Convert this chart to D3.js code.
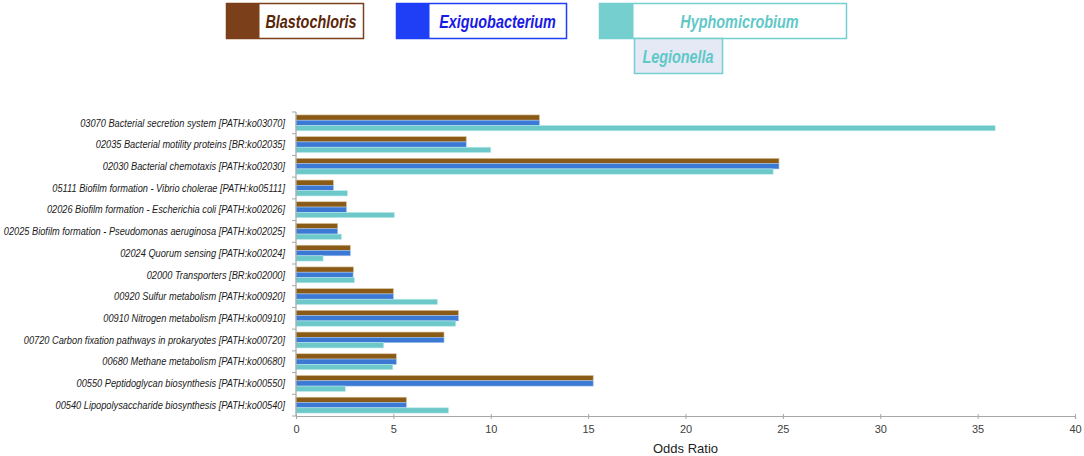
<!DOCTYPE html>
<html>
<head>
<meta charset="utf-8">
<script src="https://cdn.jsdelivr.net/npm/d3@7"></script>
<style>
  html, body { margin: 0; padding: 0; background: #ffffff; }
  svg { display: block; }
</style>
</head>
<body>
<svg id="chart" width="1084" height="456"></svg>
<script>
// KEGG pathways, top to bottom
const categories = [
    '03070 Bacterial secretion system [PATH:ko03070]',
    '02035 Bacterial motility proteins [BR:ko02035]',
    '02030 Bacterial chemotaxis [PATH:ko02030]',
    '05111 Biofilm formation - Vibrio cholerae [PATH:ko05111]',
    '02026 Biofilm formation - Escherichia coli [PATH:ko02026]',
    '02025 Biofilm formation - Pseudomonas aeruginosa [PATH:ko02025]',
    '02024 Quorum sensing [PATH:ko02024]',
    '02000 Transporters [BR:ko02000]',
    '00920 Sulfur metabolism [PATH:ko00920]',
    '00910 Nitrogen metabolism [PATH:ko00910]',
    '00720 Carbon fixation pathways in prokaryotes [PATH:ko00720]',
    '00680 Methane metabolism [PATH:ko00680]',
    '00550 Peptidoglycan biosynthesis [PATH:ko00550]',
    '00540 Lipopolysaccharide biosynthesis [PATH:ko00540]'
];

// Odds ratios
const blastochloris = [12.5, 8.74, 24.8, 1.92, 2.59, 2.14, 2.79, 2.95, 5.0, 8.34, 7.6, 5.15, 15.26, 5.67];
const exiguobacterium = [12.5, 8.74, 24.8, 1.92, 2.59, 2.14, 2.79, 2.93, 5.0, 8.34, 7.6, 5.15, 15.26, 5.67];
const hyphomicrobium = [35.9, 10.0, 24.5, 2.64, 5.05, 2.33, 1.39, 3.0, 7.26, 8.2, 4.5, 4.97, 2.53, 7.83];

const seriesNames = ['Blastochloris', 'Exiguobacterium', 'Hyphomicrobium'];
const legendNames = ['Blastochloris', 'Exiguobacterium', 'Hyphomicrobium', 'Legionella'];
const xTicks = [0, 5, 10, 15, 20, 25, 30, 35, 40];
const xTitle = 'Odds Ratio';

const barColors = ['#8a5a17', '#3c79d5', '#6dc9c9'];
const barEdges = ['#d9c49a', '#9fc2ee', '#b9e8e8'];

const labelFont = '"Liberation Sans", Arial, sans-serif';
// the original uses a narrow (Calibri-like) face, so text is squeezed horizontally
const labelSquash = 0.88;
const legendSquash = 0.8;

const svg = d3.select('#chart');
const margin = { left: 296, right: 9, top: 112, bottom: 40 };
const width = 1084 - margin.left - margin.right;
const height = 456 - margin.top - margin.bottom;

const rows = categories.map((c, i) => ({
    cat: c,
    values: [blastochloris[i], exiguobacterium[i], hyphomicrobium[i]]
}));

const xScale = d3.scaleLinear().domain([0, 40]).range([0, width]);
const yScale = d3.scaleBand().domain(categories).range([0, height]);
const inner = d3.scaleBand().domain(seriesNames).range([0, yScale.bandwidth()])
    .paddingOuter(0.55);

const chart = svg.append('g').attr('transform', `translate(${margin.left},${margin.top})`);

// Bars
const groups = chart.selectAll('.row')
    .data(rows)
    .join('g')
    .attr('class', 'row')
    .attr('transform', (d) => `translate(0,${yScale(d.cat)})`);

groups.selectAll('rect')
    .data((d) => d.values.map((v, k) => ({ v, k })))
    .join('rect')
    .attr('x', 0)
    .attr('y', (d) => inner(seriesNames[d.k]))
    .attr('width', (d) => xScale(d.v))
    .attr('height', inner.bandwidth())
    .attr('fill', (d) => barColors[d.k])
    .attr('stroke', (d) => barEdges[d.k])
    .attr('stroke-width', 0.6);

// X axis
const xAxis = d3.axisBottom(xScale).tickValues(xTicks).tickSize(3).tickPadding(6);
const gx = chart.append('g').attr('transform', `translate(0,${height})`).call(xAxis);
gx.select('.domain').attr('stroke', '#a6a6a6').attr('stroke-width', 1.2);
gx.selectAll('.tick line').attr('stroke', '#a6a6a6').attr('y1', -2);
gx.selectAll('.tick text')
    .attr('fill', '#404040')
    .style('font-family', labelFont)
    .style('font-size', '11px');

chart.append('text')
    .attr('x', xScale(20))
    .attr('y', height + 37)
    .attr('text-anchor', 'middle')
    .attr('fill', '#222')
    .style('font-family', labelFont)
    .style('font-size', '13px')
    .text(xTitle);

// Y axis line with ticks at category boundaries
chart.append('line')
    .attr('x1', 0).attr('x2', 0)
    .attr('y1', 0).attr('y2', height)
    .attr('stroke', '#a6a6a6')
    .attr('stroke-width', 1.2);
const bounds = categories.map((c) => yScale(c)).concat([height]);
chart.selectAll('.ytick')
    .data(bounds)
    .join('line')
    .attr('class', 'ytick')
    .attr('x1', -4).attr('x2', 0)
    .attr('y1', (d) => d).attr('y2', (d) => d)
    .attr('stroke', '#a6a6a6');

chart.selectAll('.ylabel')
    .data(categories)
    .join('text')
    .attr('class', 'ylabel')
    .attr('transform', (d) =>
        `translate(-11,${yScale(d) + yScale.bandwidth() / 2}) scale(${labelSquash},1)`)
    .attr('dy', '0.35em')
    .attr('text-anchor', 'end')
    .attr('fill', '#1a1a1a')
    .style('font-family', labelFont)
    .style('font-style', 'italic')
    .style('font-size', '10.5px')
    .text((d) => d);

// Legend
const legendBoxes = [
    { x: 226, y: 3, w: 137, h: 35, sw: 33, fill: '#ffffff', swatch: '#7b3f19', border: '#7b3f19', text: '#5a2608' },
    { x: 396, y: 3, w: 170, h: 35, sw: 33, fill: '#ffffff', swatch: '#1f3ff7', border: '#1f3ff7', text: '#1a1ae6' },
    { x: 599, y: 3, w: 247, h: 35, sw: 34, fill: '#ffffff', swatch: '#76cfcf', border: '#76cfcf', text: '#5fc8c8' },
    { x: 634, y: 38, w: 88, h: 35, sw: 0, fill: '#e5e9f5', swatch: null, border: '#76cfcf', text: '#5fc8c8' }
];

const legend = svg.append('g').attr('class', 'legend');
const items = legend.selectAll('g')
    .data(legendNames.map((name, i) => ({ name, ...legendBoxes[i] })))
    .join('g');

items.append('rect')
    .attr('x', (d) => d.x + 0.5)
    .attr('y', (d) => d.y + 0.5)
    .attr('width', (d) => d.w)
    .attr('height', (d) => d.h)
    .attr('fill', (d) => d.fill)
    .attr('stroke', (d) => d.border)
    .attr('stroke-width', 1.5);

items.filter((d) => d.swatch)
    .append('rect')
    .attr('x', (d) => d.x + 0.5)
    .attr('y', (d) => d.y + 0.5)
    .attr('width', (d) => d.sw)
    .attr('height', (d) => d.h)
    .attr('fill', (d) => d.swatch);

items.append('text')
    .attr('transform', (d) =>
        `translate(${d.x + d.sw + (d.w - d.sw) / 2},${d.y + d.h / 2 + 1}) scale(${legendSquash},1)`)
    .attr('dy', '0.35em')
    .attr('text-anchor', 'middle')
    .attr('fill', (d) => d.text)
    .style('font-family', labelFont)
    .style('font-style', 'italic')
    .style('font-weight', 'bold')
    .style('font-size', '18px')
    .text((d) => d.name);
</script>
</body>
</html>
